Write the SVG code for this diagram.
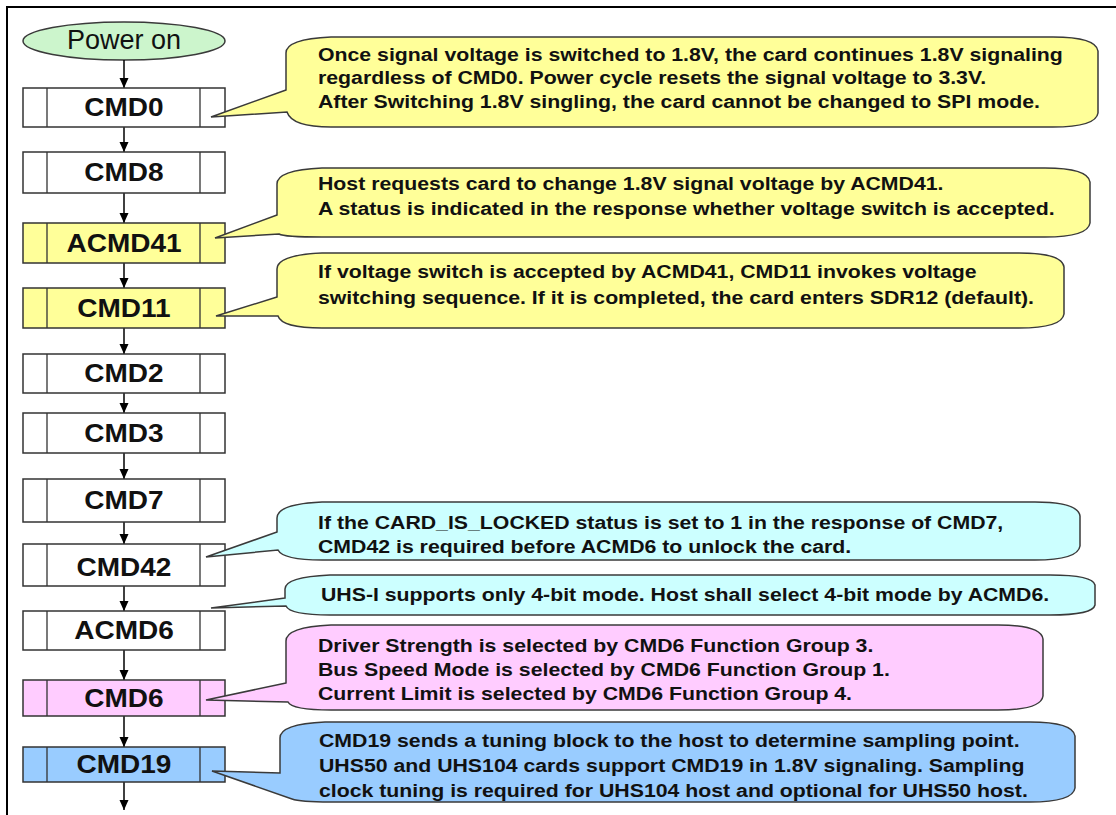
<svg xmlns="http://www.w3.org/2000/svg" width="1116" height="815" viewBox="0 0 1116 815">
<defs>
<marker id="ah" markerUnits="userSpaceOnUse" markerWidth="10" markerHeight="10" refX="10" refY="5" orient="auto">
<path d="M0,0.5 L10,5 L0,9.5 z" fill="#000"/>
</marker>
<style>
.box{stroke:#333;stroke-width:1.5}
.div{stroke:#333;stroke-width:1.3}
.lbl{font-family:"Liberation Sans",Arial,sans-serif;font-weight:bold;font-size:25px;fill:#111;text-anchor:middle}
.co{stroke:#3a3a3a;stroke-width:1.5}
.ct{font-family:"Liberation Sans",Arial,sans-serif;font-weight:bold;font-size:19px;fill:#111}
.conn line{stroke:#000;stroke-width:1.5;marker-end:url(#ah)}
.white{fill:#fff}.yellow{fill:#ffff99}.cyan{fill:#ccffff}.pink{fill:#ffccff}.blue{fill:#99ccff}
</style>
</defs>
<rect width="1116" height="815" fill="#fff"/>
<path d="M7,815 L7,7 L1116,7" fill="none" stroke="#000" stroke-width="2"/>

<g id="power-on">
<ellipse cx="124" cy="41" rx="101" ry="19" fill="#ccf5cc" class="co"/>
<text x="124" y="49" font-family="'Liberation Sans',Arial,sans-serif" font-size="27" fill="#111" text-anchor="middle">Power on</text>
</g>

<g class="conn" id="connectors">
<line x1="124" y1="60" x2="124" y2="88"/>
<line x1="124" y1="127" x2="124" y2="152"/>
<line x1="124" y1="193" x2="124" y2="223"/>
<line x1="124" y1="263" x2="124" y2="288"/>
<line x1="124" y1="328" x2="124" y2="354"/>
<line x1="124" y1="393" x2="124" y2="413"/>
<line x1="124" y1="453" x2="124" y2="479"/>
<line x1="124" y1="522" x2="124" y2="544"/>
<line x1="124" y1="586" x2="124" y2="611"/>
<line x1="124" y1="650" x2="124" y2="680"/>
<line x1="124" y1="716" x2="124" y2="747"/>
<line x1="124" y1="782" x2="124" y2="810"/>
</g>

<g id="cmd0"><rect x="23" y="88" width="202" height="39" class="box white"/><path d="M47,88V127M200,88V127" class="div"/><text transform="translate(124,116) scale(1.12,1)" class="lbl">CMD0</text></g>
<g id="cmd8"><rect x="23" y="152" width="202" height="41" class="box white"/><path d="M47,152V193M200,152V193" class="div"/><text transform="translate(124,181) scale(1.12,1)" class="lbl">CMD8</text></g>
<g id="acmd41"><rect x="23" y="223" width="202" height="40" class="box yellow"/><path d="M47,223V263M200,223V263" class="div"/><text transform="translate(124,252) scale(1.12,1)" class="lbl">ACMD41</text></g>
<g id="cmd11"><rect x="23" y="288" width="202" height="40" class="box yellow"/><path d="M47,288V328M200,288V328" class="div"/><text transform="translate(124,317) scale(1.12,1)" class="lbl">CMD11</text></g>
<g id="cmd2"><rect x="23" y="354" width="202" height="39" class="box white"/><path d="M47,354V393M200,354V393" class="div"/><text transform="translate(124,382) scale(1.12,1)" class="lbl">CMD2</text></g>
<g id="cmd3"><rect x="23" y="413" width="202" height="40" class="box white"/><path d="M47,413V453M200,413V453" class="div"/><text transform="translate(124,442) scale(1.12,1)" class="lbl">CMD3</text></g>
<g id="cmd7"><rect x="23" y="479" width="202" height="43" class="box white"/><path d="M47,479V522M200,479V522" class="div"/><text transform="translate(124,509) scale(1.12,1)" class="lbl">CMD7</text></g>
<g id="cmd42"><rect x="23" y="544" width="202" height="42" class="box white"/><path d="M47,544V586M200,544V586" class="div"/><text transform="translate(124,576) scale(1.12,1)" class="lbl">CMD42</text></g>
<g id="acmd6"><rect x="23" y="611" width="202" height="39" class="box white"/><path d="M47,611V650M200,611V650" class="div"/><text transform="translate(124,639) scale(1.12,1)" class="lbl">ACMD6</text></g>
<g id="cmd6"><rect x="23" y="680" width="202" height="36" class="box pink"/><path d="M47,680V716M200,680V716" class="div"/><text transform="translate(124,707) scale(1.12,1)" class="lbl">CMD6</text></g>
<g id="cmd19"><rect x="23" y="747" width="202" height="35" class="box blue"/><path d="M47,747V782M200,747V782" class="div"/><text transform="translate(124,773) scale(1.12,1)" class="lbl">CMD19</text></g>

<g id="note-cmd0">
<path class="co yellow" d="M286,90 L211,117 L287,112 Q292,127 331,127 L1053,127 Q1096,127 1098,113 L1098,51 Q1096,37 1053,37 L331,37 Q286,39 286,53 Z"/>
<text class="ct" transform="translate(318,0) scale(1.12,1)"><tspan x="0" y="61">Once signal voltage is switched to 1.8V, the card continues 1.8V signaling</tspan><tspan x="0" y="84">regardless of CMD0. Power cycle resets the signal voltage to 3.3V.</tspan><tspan x="0" y="108">After Switching 1.8V singling, the card cannot be changed to SPI mode.</tspan></text>
</g>
<g id="note-acmd41">
<path class="co yellow" d="M277,215 L215,238 L279,234 Q284,237 322,237 L1045,237 Q1088,237 1090,223 L1090,182 Q1088,168 1045,168 L322,168 Q277,170 277,184 Z"/>
<text class="ct" transform="translate(318,0) scale(1.12,1)"><tspan x="0" y="190">Host requests card to change 1.8V signal voltage by ACMD41.</tspan><tspan x="0" y="215">A status is indicated in the response whether voltage switch is accepted.</tspan></text>
</g>
<g id="note-cmd11">
<path class="co yellow" d="M277,297 L216,316 L278,316 Q282,328 322,328 L1019,328 Q1062,328 1064,314 L1064,267 Q1062,253 1019,253 L322,253 Q277,255 277,269 Z"/>
<text class="ct" transform="translate(318,0) scale(1.12,1)"><tspan x="0" y="278">If voltage switch is accepted by ACMD41, CMD11 invokes voltage</tspan><tspan x="0" y="304">switching sequence. If it is completed, the card enters SDR12 (default).</tspan></text>
</g>
<g id="note-cmd42">
<path class="co cyan" d="M277,532 L206,557 L278,550 Q283,560 322,560 L1035,560 Q1078,560 1080,546 L1080,516 Q1078,502 1035,502 L322,502 Q277,504 277,518 Z"/>
<text class="ct" transform="translate(318,0) scale(1.12,1)"><tspan x="0" y="529">If the CARD_IS_LOCKED status is set to 1 in the response of CMD7,</tspan><tspan x="0" y="553">CMD42 is required before ACMD6 to unlock the card.</tspan></text>
</g>
<g id="note-acmd6">
<path class="co cyan" d="M285,598 L211,608 L286,606 Q290,615 330,615 L1050,615 Q1093,615 1095,605 L1095,585 Q1093,575 1050,575 L330,575 Q285,577 285,589 Z"/>
<text class="ct" transform="translate(321,0) scale(1.12,1)" x="0" y="601">UHS-I supports only 4-bit mode. Host shall select 4-bit mode by ACMD6.</text>
</g>
<g id="note-cmd6">
<path class="co pink" d="M286,683 L206,700 L288,702 Q292,710 331,710 L998,710 Q1041,710 1043,696 L1043,639 Q1041,625 998,625 L331,625 Q286,627 286,641 Z"/>
<text class="ct" transform="translate(318,0) scale(1.12,1)"><tspan x="0" y="652">Driver Strength is selected by CMD6 Function Group 3.</tspan><tspan x="0" y="676">Bus Speed Mode is selected by CMD6 Function Group 1.</tspan><tspan x="0" y="700">Current Limit is selected by CMD6 Function Group 4.</tspan></text>
</g>
<g id="note-cmd19">
<path class="co blue" d="M280,773 L212,771 L292,799 Q300,802 330,802 L1030,802 Q1073,802 1075,788 L1075,736 Q1073,722 1030,722 L325,722 Q280,724 280,738 Z"/>
<text class="ct" transform="translate(319,0) scale(1.12,1)"><tspan x="0" y="747">CMD19 sends a tuning block to the host to determine sampling point.</tspan><tspan x="0" y="772">UHS50 and UHS104 cards support CMD19 in 1.8V signaling. Sampling</tspan><tspan x="0" y="797">clock tuning is required for UHS104 host and optional for UHS50 host.</tspan></text>
</g>
</svg>
